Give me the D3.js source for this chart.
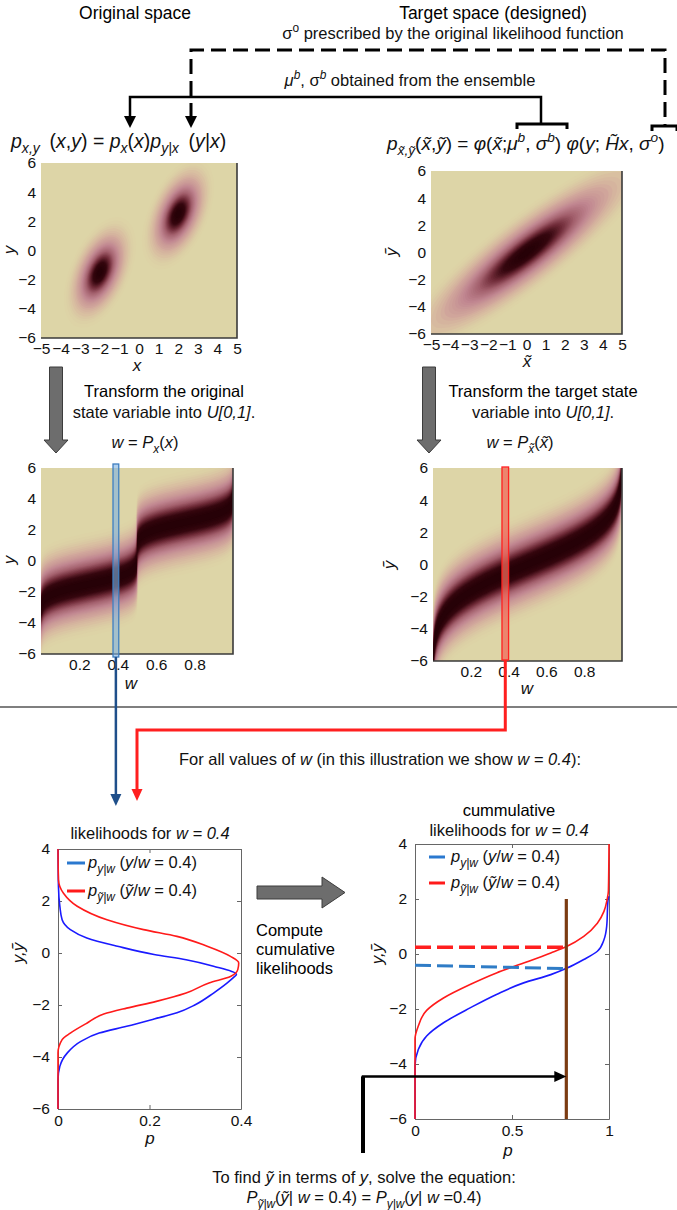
<!DOCTYPE html>
<html>
<head>
<meta charset="utf-8">
<script src="https://cdn.jsdelivr.net/npm/d3@7"></script>
<style>
  body { margin: 0; background: #fff; }
  svg { display: block; font-family: "Liberation Sans", Arial, sans-serif; }
  .tick text { font-size: 15.5px; fill: #111; }
</style>
</head>
<body>
<svg id="fig" width="677" height="1210"></svg>
<script>
// ---- model parameters ----
const mixWeights = [0.5, 0.5];
const mixMeansX = [-2, 2];
const mixSdX = 0.55;
const obsSlope = 1;
const obsOffset = 0.5;
const sigmaO = 1.0;
const muB = 0;
const sigmaB = 2;

// ---- axis ticks ----
const xTicksState = [-5, -4, -3, -2, -1, 0, 1, 2, 3, 4, 5];
const yTicksState = [-6, -4, -2, 0, 2, 4, 6];
const wTicks = [0.2, 0.4, 0.6, 0.8];
const yTicksLik = [-6, -4, -2, 0, 2, 4];
const pTicksLik = [0, 0.2, 0.4];
const pTicksCdf = [0, 0.5, 1];

// ---- likelihoods for w = 0.4 (y, p) ----
const likYBlue = [-6, -4.87, -4.36, -3.85, -3.4, -3.08, -2.82, -2.54, -2.3, -1.99, -1.54, -1.15, -0.92, -0.83, -0.51, -0.26, -0.06, 0.26, 0.58, 0.9, 1.28, 1.8, 2.56, 4];
const likPBlue = [0, 0, 0.004, 0.02, 0.05, 0.09, 0.15, 0.21, 0.26, 0.30, 0.34, 0.37, 0.385, 0.39, 0.34, 0.28, 0.21, 0.13, 0.063, 0.027, 0.009, 0.004, 0.001, 0];
const likYRed = [-6, -3.85, -3.33, -3.08, -2.7, -2.35, -2.12, -1.86, -1.54, -1.15, -0.9, -0.64, -0.38, -0.13, 0.26, 0.64, 0.9, 1.28, 1.8, 2.3, 2.82, 4];
const likPRed = [0, 0, 0.009, 0.027, 0.063, 0.1, 0.15, 0.215, 0.28, 0.33, 0.377, 0.393, 0.395, 0.377, 0.326, 0.26, 0.187, 0.107, 0.042, 0.012, 0.001, 0];

// ---- cumulative likelihoods (y, P) ----
const cdfYBlue = [-6, -4.07, -3.47, -2.98, -2.5, -1.96, -1.47, -1.05, -0.75, -0.51, -0.2, 0.1, 0.52, 1.0, 1.97, 2.1];
const cdfPBlue = [0, 0, 0.017, 0.06, 0.147, 0.284, 0.42, 0.56, 0.70, 0.784, 0.87, 0.94, 0.974, 0.988, 0.995, 1];
const cdfYRed = [-6, -3.1, -2.62, -2.05, -1.6, -1.11, -0.69, -0.33, 0.04, 0.28, 0.64, 1.12, 1.55, 1.97, 2.3, 4];
const cdfPRed = [0, 0, 0.017, 0.06, 0.147, 0.284, 0.42, 0.56, 0.70, 0.784, 0.87, 0.94, 0.974, 0.99, 0.997, 1];
const solveP = 0.78;
const solveYRed = [0.25, 0.25];
const solveYBlue = [-0.41, -0.53];
const brownY = [2, -6];
const arrowY = -4.45;

const wBlueBar = [0.375, 0.405];
const wRedBar = [0.365, 0.4];

const svg = d3.select('#fig');
const xt = 'x\u0303', yt = 'y\u0303';
const FS = 16.5;
const sp = '\u2002';

// text with italics / sub / superscripts
function rich(x, y, parts, size = FS, anchor = 'start', rot = null) {
  const t = svg.append('text').attr('x', x).attr('y', y)
    .attr('font-size', size).attr('text-anchor', anchor).attr('fill', '#111');
  if (rot !== null) t.attr('transform', `rotate(${rot},${x},${y})`);
  let shift = 0;
  parts.forEach(p => {
    const s = p[0], st = p[1] || '';
    const ts = t.append('tspan').text(s);
    const target = st.includes('b') ? size * 0.28 : st.includes('p') ? -size * 0.4 : 0;
    if (target !== shift) { ts.attr('dy', target - shift); shift = target; }
    if (st.includes('b') || st.includes('p')) ts.attr('font-size', size * 0.72);
    if (st.includes('i')) ts.attr('font-style', 'italic');
  });
  return t;
}

// normal helpers
function erf(x) {
  const s = Math.sign(x); x = Math.abs(x);
  const t = 1 / (1 + 0.3275911 * x);
  const y = 1 - (((((1.061405429 * t - 1.453152027) * t) + 1.421413741) * t - 0.284496736) * t + 0.254829592) * t * Math.exp(-x * x);
  return s * y;
}
const npdf = (x, m, s) => Math.exp(-0.5 * ((x - m) / s) ** 2) / (s * Math.sqrt(2 * Math.PI));
const ncdf = (x, m, s) => 0.5 * (1 + erf((x - m) / (s * Math.SQRT2)));
function invert(cdf, w) {
  let lo = -12, hi = 12;
  for (let k = 0; k < 60; k++) { const mid = (lo + hi) / 2; if (cdf(mid) < w) lo = mid; else hi = mid; }
  return (lo + hi) / 2;
}
const mixCdf = x => d3.sum(mixMeansX, (m, k) => mixWeights[k] * ncdf(x, m, mixSdX));

const cmap = d3.scaleLinear()
  .domain([0, 0.008, 0.03, 0.1, 0.25, 0.45, 0.65, 0.82, 1])
  .range(['#ddd5a7', '#dcd0a5', '#d9c0a1', '#d0a59b', '#c08690', '#a25f6c', '#6e2a37', '#36070f', '#240006'])
  .interpolate(d3.interpolateRgb);

function heatmap(box, xDom, yDom, fn, nx, ny, sat, id) {
  const xs = d3.scaleLinear().domain(xDom).range([box.x0, box.x1]);
  const ys = d3.scaleLinear().domain(yDom).range([box.y1, box.y0]);
  const vals = new Float64Array(nx * ny);
  for (let j = 0; j < ny; j++) {
    const yv = yDom[1] - (j + 0.5) / ny * (yDom[1] - yDom[0]);
    for (let i = 0; i < nx; i++) {
      const xv = xDom[0] + (i + 0.5) / nx * (xDom[1] - xDom[0]);
      vals[j * nx + i] = fn(xv, yv, i);
    }
  }
  const mx = d3.max(vals);
  for (let k = 0; k < vals.length; k++) vals[k] /= mx;
  svg.append('clipPath').attr('id', id).append('rect')
    .attr('x', box.x0).attr('y', box.y0).attr('width', box.x1 - box.x0).attr('height', box.y1 - box.y0);
  const g = svg.append('g').attr('clip-path', `url(#${id})`);
  g.append('rect').attr('x', box.x0).attr('y', box.y0)
    .attr('width', box.x1 - box.x0).attr('height', box.y1 - box.y0).attr('fill', cmap(0));
  const proj = d3.geoTransform({
    point(px, py) {
      this.stream.point(xs(xDom[0] + px / nx * (xDom[1] - xDom[0])), ys(yDom[1] - py / ny * (yDom[1] - yDom[0])));
    }
  });
  const path = d3.geoPath(proj);
  const levels = [0.004, 0.008, 0.014, 0.02, 0.03, 0.045, 0.06, 0.08, 0.1].concat(d3.range(0.125, 1.0, 0.025));
  g.selectAll('path').data(d3.contours().size([nx, ny]).thresholds(levels)(vals)).join('path')
    .attr('d', path).attr('fill', d => cmap(Math.min(1, d.value / sat)));
  // matlab-like box shadow on right and bottom
  svg.append('path').attr('d', `M${box.x0},${box.y1}H${box.x1}V${box.y0}`)
    .attr('fill', 'none').attr('stroke', '#3a3a3a').attr('stroke-width', 1.6);
  return { xs, ys };
}

function heatAxes(sc, box, xticks, yticks, xfmt) {
  svg.append('g').attr('transform', `translate(0,${box.y1})`)
    .call(d3.axisBottom(sc.xs).tickValues(xticks).tickSize(0).tickPadding(5).tickFormat(xfmt || d3.format('')))
    .call(g => g.select('.domain').remove());
  svg.append('g').attr('transform', `translate(${box.x0},0)`)
    .call(d3.axisLeft(sc.ys).tickValues(yticks).tickSize(0).tickPadding(5))
    .call(g => g.select('.domain').remove());
}

// ---------------- header ----------------
svg.append('text').attr('x', 135).attr('y', 19).attr('text-anchor', 'middle').attr('font-size', 17.5).text('Original space');
svg.append('text').attr('x', 493).attr('y', 19).attr('text-anchor', 'middle').attr('font-size', 17.5).text('Target space (designed)');
rich(453, 39, [['\u03c3'], ['o', 'p'], [' prescribed by the original likelihood function']], 16.5, 'middle');
rich(410, 86, [['\u03bc', 'i'], ['b', 'ip'], [', \u03c3'], ['b', 'ip'], [' obtained from the ensemble']], 16.5, 'middle');

svg.append('path').attr('d', 'M191,118V50H665V126').attr('fill', 'none')
  .attr('stroke', '#000').attr('stroke-width', 3).attr('stroke-dasharray', '15,7');
svg.append('path').attr('d', 'M185,116L197,116L191,128Z').attr('fill', '#000');
svg.append('path').attr('d', 'M652,131V126H677V131').attr('fill', 'none').attr('stroke', '#000').attr('stroke-width', 3);
svg.append('path').attr('d', 'M130,118V97H541V125').attr('fill', 'none').attr('stroke', '#000').attr('stroke-width', 2.5);
svg.append('path').attr('d', 'M124,116L136,116L130,128Z').attr('fill', '#000');
svg.append('path').attr('d', 'M517,129V124H567V129').attr('fill', 'none').attr('stroke', '#000').attr('stroke-width', 3);

rich(11, 148, [['p', 'i'], ['x,y', 'ib'], [sp + '('], ['x', 'i'], [','], ['y', 'i'], [') = '], ['p', 'i'], ['x', 'ib'], ['('], ['x', 'i'], [')'], ['p', 'i'], ['y|x', 'ib'], [sp + '('], ['y|x', 'i'], [')']], 19.5);
rich(387, 150, [['p', 'i'], [xt + ',' + yt, 'ib'], ['('], [xt, 'i'], [','], [yt, 'i'], [') = '], ['\u03c6', 'i'], ['('], [xt, 'i'], [';'], ['\u03bc', 'i'], ['b', 'ip'], [', '], ['\u03c3', 'i'], ['b', 'ip'], [') '], ['\u03c6', 'i'], ['('], ['y', 'i'], ['; '], ['H\u0303x', 'i'], [', '], ['\u03c3', 'i'], ['o', 'ip'], [')']], 19);

// ---------------- top heat maps ----------------
const TL = { x0: 41, x1: 237, y0: 163, y1: 338 };
const TR = { x0: 431, x1: 622, y0: 171, y1: 334 };
const ML = { x0: 41, x1: 233, y0: 468, y1: 654 };
const MR = { x0: 433, x1: 622, y0: 468, y1: 661 };

const scTL = heatmap(TL, [-5, 5], [-6, 6], (x, y) =>
  d3.sum(mixMeansX, (m, k) => mixWeights[k] * npdf(x, m, mixSdX) * npdf(y, obsSlope * x + obsOffset, sigmaO)),
  160, 180, 1, 'cTL');
heatAxes(scTL, TL, xTicksState, yTicksState);
rich(10, 250, [['y', 'i']], 17, 'middle', -90).attr('dy', 5);
rich(137, 371, [['x', 'i']], 17, 'middle');

const scTR = heatmap(TR, [-5, 5], [-6, 6], (x, y) =>
  npdf(x, muB, sigmaB) * npdf(y, obsSlope * x, sigmaO), 160, 180, 1, 'cTR');
heatAxes(scTR, TR, xTicksState, yTicksState);
rich(392, 252, [[yt, 'i']], 17, 'middle', -90).attr('dy', 5);
rich(527, 367, [[xt, 'i']], 17, 'middle');

// ---------------- transform arrows + text ----------------
function downArrow(cx) {
  svg.append('path').attr('d', `M${cx - 6.5},367H${cx + 6.5}V440H${cx + 12}L${cx},453L${cx - 12},440H${cx - 6.5}Z`)
    .attr('fill', '#6d6d6d').attr('stroke', '#3c3c3c').attr('stroke-width', 1);
}
downArrow(56);
downArrow(429);
svg.append('text').attr('x', 164).attr('y', 397).attr('text-anchor', 'middle').attr('font-size', FS).text('Transform the original');
rich(164, 418, [['state variable into '], ['U[0,1]', 'i'], ['.']], FS, 'middle');
rich(145, 448, [['w', 'i'], [' = '], ['P', 'i'], ['x', 'ib'], ['('], ['x', 'i'], [')']], FS, 'middle');
svg.append('text').attr('x', 543).attr('y', 397).attr('text-anchor', 'middle').attr('font-size', FS).text('Transform the target state');
rich(543, 418, [['variable into '], ['U[0,1]', 'i'], ['.']], FS, 'middle');
rich(520, 448, [['w', 'i'], [' = '], ['P', 'i'], [xt, 'ib'], ['('], [xt, 'i'], [')']], FS, 'middle');

// ---------------- middle heat maps ----------------
const nxMid = 180;
const xInvL = d3.range(nxMid).map(i => invert(mixCdf, (i + 0.5) / nxMid));
const xInvR = d3.range(nxMid).map(i => invert(x => ncdf(x, muB, sigmaB), (i + 0.5) / nxMid));
const scML = heatmap(ML, [0, 1], [-6, 6], (w, y, i) =>
  npdf(y, obsSlope * xInvL[i] + obsOffset, sigmaO), nxMid, 180, 1, 'cML');
heatAxes(scML, ML, wTicks, yTicksState);
const scMR = heatmap(MR, [0, 1], [-6, 6], (w, y, i) =>
  npdf(y, obsSlope * xInvR[i], sigmaO), nxMid, 180, 1, 'cMR');
heatAxes(scMR, MR, wTicks, yTicksState);
rich(10, 560, [['y', 'i']], 17, 'middle', -90).attr('dy', 5);
rich(131, 689, [['w', 'i']], 17, 'middle');
rich(390, 565, [[yt, 'i']], 17, 'middle', -90).attr('dy', 5);
rich(527, 694, [['w', 'i']], 17, 'middle');

// selection bars at w = 0.4
svg.append('rect').attr('x', scML.xs(wBlueBar[0])).attr('y', ML.y0 - 4)
  .attr('width', scML.xs(wBlueBar[1]) - scML.xs(wBlueBar[0])).attr('height', ML.y1 - ML.y0 + 7)
  .attr('fill', '#7fb3e3').attr('fill-opacity', 0.6).attr('stroke', '#3f7fc0').attr('stroke-width', 1.3);
svg.append('rect').attr('x', scMR.xs(wRedBar[0])).attr('y', MR.y0 - 1)
  .attr('width', scMR.xs(wRedBar[1]) - scMR.xs(wRedBar[0])).attr('height', MR.y1 - MR.y0)
  .attr('fill', '#f06a5a').attr('fill-opacity', 0.75).attr('stroke', '#ff2020').attr('stroke-width', 1.3);

// separator
svg.append('line').attr('x1', 0).attr('x2', 677).attr('y1', 707).attr('y2', 707)
  .attr('stroke', '#555').attr('stroke-width', 1.5);

// connectors
const bx = (scML.xs(wBlueBar[0]) + scML.xs(wBlueBar[1])) / 2;
svg.append('path').attr('d', `M${bx},${ML.y1 + 3}V795`).attr('stroke', '#1f4f8a').attr('stroke-width', 2.5).attr('fill', 'none');
svg.append('path').attr('d', `M${bx - 5.5},794L${bx + 5.5},794L${bx},806Z`).attr('fill', '#1f4f8a');
const rx = (scMR.xs(wRedBar[0]) + scMR.xs(wRedBar[1])) / 2;
svg.append('path').attr('d', `M${rx},${MR.y1 - 1}V730H137V790`).attr('stroke', '#ff1f1f').attr('stroke-width', 3).attr('fill', 'none');
svg.append('path').attr('d', 'M131.5,789L142.5,789L137,801Z').attr('fill', '#ff1f1f');

rich(380, 765, [['For all values of '], ['w', 'i'], [' (in this illustration we show '], ['w = 0.4', 'i'], ['):']], FS, 'middle');

// ---------------- bottom plots ----------------
function frameAxes(box, xs, ys, xticks, yticks) {
  const g = svg.append('g');
  g.append('g').attr('transform', `translate(0,${box.y1})`)
    .call(d3.axisBottom(xs).tickValues(xticks).tickSize(-4).tickSizeOuter(0).tickPadding(6).tickFormat(d3.format('')));
  g.append('g').attr('transform', `translate(0,${box.y0})`)
    .call(d3.axisTop(xs).tickValues(xticks).tickSize(-4).tickSizeOuter(0).tickFormat(''));
  g.append('g').attr('transform', `translate(${box.x0},0)`)
    .call(d3.axisLeft(ys).tickValues(yticks).tickSize(-4).tickSizeOuter(0).tickPadding(8));
  g.append('g').attr('transform', `translate(${box.x1},0)`)
    .call(d3.axisRight(ys).tickValues(yticks).tickSize(-4).tickSizeOuter(0).tickFormat(''));
  g.selectAll('.domain, .tick line').attr('stroke', '#666');
  return g;
}

const BL = { x0: 58, x1: 241, y0: 849, y1: 1109 };
const BR = { x0: 415, x1: 609, y0: 844, y1: 1119 };
const xsBL = d3.scaleLinear().domain([0, 0.4]).range([BL.x0, BL.x1]);
const ysBL = d3.scaleLinear().domain([-6, 4]).range([BL.y1, BL.y0]);
const xsBR = d3.scaleLinear().domain([0, 1]).range([BR.x0, BR.x1]);
const ysBR = d3.scaleLinear().domain([-6, 4]).range([BR.y1, BR.y0]);

rich(150, 839, [['likelihoods for '], ['w = 0.4', 'i']], FS, 'middle');
svg.append('text').attr('x', 509).attr('y', 816).attr('text-anchor', 'middle').attr('font-size', FS).text('cummulative');
rich(509, 836, [['likelihoods for '], ['w = 0.4', 'i']], FS, 'middle');

frameAxes(BL, xsBL, ysBL, pTicksLik, yTicksLik);
const lineBL = d3.line().x(d => xsBL(d[1])).y(d => ysBL(d[0])).curve(d3.curveMonotoneY);
svg.append('path').datum(d3.zip(likYBlue, likPBlue)).attr('d', lineBL)
  .attr('fill', 'none').attr('stroke', '#1a1aff').attr('stroke-width', 1.6);
svg.append('path').datum(d3.zip(likYRed, likPRed)).attr('d', lineBL)
  .attr('fill', 'none').attr('stroke', '#ff1a1a').attr('stroke-width', 1.6);
svg.append('line').attr('x1', 67).attr('x2', 85).attr('y1', 863).attr('y2', 863).attr('stroke', '#2a78cf').attr('stroke-width', 3);
rich(88, 868, [['p', 'i'], ['y|w', 'ib'], [' ('], ['y', 'i'], ['/'], ['w', 'i'], [' = 0.4)']], FS);
svg.append('line').attr('x1', 67).attr('x2', 85).attr('y1', 891).attr('y2', 891).attr('stroke', '#ff1a1a').attr('stroke-width', 3);
rich(88, 896, [['p', 'i'], [yt + '|w', 'ib'], [' ('], [yt, 'i'], ['/'], ['w', 'i'], [' = 0.4)']], FS);
rich(150, 1144, [['p', 'i']], 17, 'middle');
rich(19, 953, [['y,' + yt, 'i']], 17, 'middle', -90).attr('dy', 5);

// compute arrow
svg.append('path').attr('d', 'M257,886H322V877L345,892.5L322,908V899H257Z')
  .attr('fill', '#6d6d6d').attr('stroke', '#3c3c3c').attr('stroke-width', 1);
svg.append('text').attr('x', 256).attr('y', 936).attr('font-size', FS).text('Compute');
svg.append('text').attr('x', 256).attr('y', 955).attr('font-size', FS).text('cumulative');
svg.append('text').attr('x', 256).attr('y', 974).attr('font-size', FS).text('likelihoods');

frameAxes(BR, xsBR, ysBR, pTicksCdf, yTicksLik);
const lineBR = d3.line().x(d => xsBR(d[1])).y(d => ysBR(d[0])).curve(d3.curveMonotoneY);
svg.append('path').datum(d3.zip(cdfYBlue, cdfPBlue)).attr('d', lineBR)
  .attr('fill', 'none').attr('stroke', '#1a1aff').attr('stroke-width', 1.6);
svg.append('path').datum(d3.zip(cdfYRed, cdfPRed)).attr('d', lineBR)
  .attr('fill', 'none').attr('stroke', '#ff1a1a').attr('stroke-width', 1.6);
svg.append('line').attr('x1', xsBR(0)).attr('x2', xsBR(solveP))
  .attr('y1', ysBR(solveYRed[0])).attr('y2', ysBR(solveYRed[1]))
  .attr('stroke', '#ff1f1f').attr('stroke-width', 3.5).attr('stroke-dasharray', '16,6');
svg.append('line').attr('x1', xsBR(0)).attr('x2', xsBR(solveP))
  .attr('y1', ysBR(solveYBlue[0])).attr('y2', ysBR(solveYBlue[1]))
  .attr('stroke', '#2f7cc6').attr('stroke-width', 3).attr('stroke-dasharray', '16,6');
svg.append('line').attr('x1', xsBR(solveP)).attr('x2', xsBR(solveP))
  .attr('y1', ysBR(brownY[0])).attr('y2', ysBR(brownY[1]))
  .attr('stroke', '#7b3b12').attr('stroke-width', 3.2);
svg.append('line').attr('x1', 429).attr('x2', 445).attr('y1', 857).attr('y2', 857).attr('stroke', '#2a78cf').attr('stroke-width', 3);
rich(451, 862, [['p', 'i'], ['y|w', 'ib'], [' ('], ['y', 'i'], ['/'], ['w', 'i'], [' = 0.4)']], FS);
svg.append('line').attr('x1', 429).attr('x2', 445).attr('y1', 883).attr('y2', 883).attr('stroke', '#ff1a1a').attr('stroke-width', 3);
rich(451, 888, [['p', 'i'], [yt + '|w', 'ib'], [' ('], [yt, 'i'], ['/'], ['w', 'i'], [' = 0.4)']], FS);
rich(508, 1156, [['p', 'i']], 17, 'middle');
rich(378, 954, [['y,' + yt, 'i']], 17, 'middle', -90).attr('dy', 5);

// solve arrow
const ay = ysBR(arrowY);
svg.append('path').attr('d', `M363,1153V${ay}H${xsBR(solveP) - 10}`)
  .attr('fill', 'none').attr('stroke', '#000').attr('stroke-width', 2.5);
svg.append('line').attr('x1', 363).attr('x2', 363).attr('y1', ay).attr('y2', 1153).attr('stroke', '#000').attr('stroke-width', 4);
svg.append('path').attr('d', `M${xsBR(solveP) - 12},${ay - 5.5}L${xsBR(solveP)},${ay}L${xsBR(solveP) - 12},${ay + 5.5}Z`).attr('fill', '#000');

rich(364, 1183, [['To find '], [yt, 'i'], [' in terms of '], ['y', 'i'], [', solve the equation:']], FS, 'middle');
rich(364, 1203, [['P', 'i'], [yt + '|w', 'ib'], ['('], [yt, 'i'], ['| '], ['w', 'i'], [' = 0.4) = '], ['P', 'i'], ['y|w', 'ib'], ['('], ['y', 'i'], ['| '], ['w', 'i'], [' =0.4)']], FS, 'middle');
</script>
</body>
</html>
